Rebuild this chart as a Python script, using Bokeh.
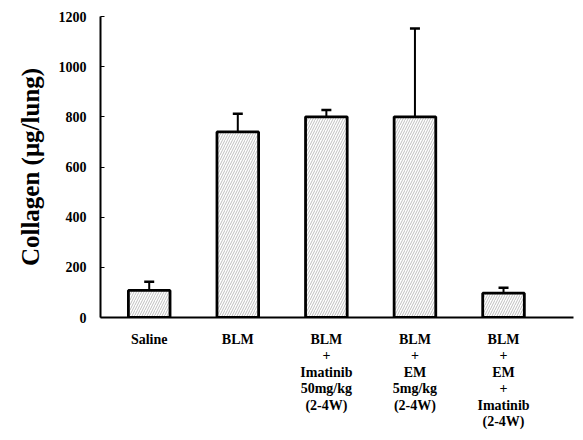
from bokeh.plotting import figure
from bokeh.models import Range1d, FixedTicker, Whisker, TeeHead, ColumnDataSource
from bokeh.embed import file_html
from bokeh.resources import INLINE

categories = ["Saline", "BLM", "BLM\n+\nImatinib\n50mg/kg\n(2-4W)",
              "BLM\n+\nEM\n5mg/kg\n(2-4W)", "BLM\n+\nEM\n+\nImatinib\n(2-4W)"]
means = [108, 740, 800, 800, 97]
errors = [35, 72, 27, 352, 22]
y_ticks = [0, 200, 400, 600, 800, 1000, 1200]

xs = list(range(1, len(categories) + 1))
src = ColumnDataSource(dict(x=xs, top=means, upper=[m + e for m, e in zip(means, errors)]))

FONT = "Liberation Serif"

p = figure(width=575, height=432, output_backend="svg", toolbar_location=None,
           x_range=Range1d(0.45, 5.79), y_range=Range1d(0, 1200),
           min_border_left=100, min_border_right=2, min_border_top=16, min_border_bottom=114)
p.outline_line_color = None
p.grid.visible = False
p.background_fill_color = "white"

p.vbar(x="x", top="top", width=0.47, source=src, fill_color="white",
       line_color="black", line_width=2.8, hatch_pattern="/", hatch_scale=5,
       hatch_color="#777777", hatch_weight=0.6, hatch_alpha=0.8)

w = Whisker(base="x", lower="top", upper="upper", source=src, line_color="black", line_width=2,
            lower_head=None, upper_head=TeeHead(size=10, line_width=2.5, line_color="black"))
p.add_layout(w)

p.yaxis.ticker = FixedTicker(ticks=y_ticks)
p.yaxis.minor_tick_line_color = None
p.yaxis.major_tick_in = 4
p.yaxis.major_tick_out = 0
p.yaxis.major_label_text_font = FONT
p.yaxis.major_label_text_font_style = "bold"
p.yaxis.major_label_text_font_size = "14px"
p.yaxis.major_label_text_color = "black"
p.yaxis.major_label_standoff = 14
p.yaxis.axis_line_width = 2
p.yaxis.axis_label = "Collagen (μg/lung)"
p.yaxis.axis_label_text_font = FONT
p.yaxis.axis_label_text_font_style = "bold"
p.yaxis.axis_label_text_font_size = "25px"
p.yaxis.axis_label_text_color = "black"
p.yaxis.axis_label_standoff = 12

p.xaxis.ticker = FixedTicker(ticks=xs)
p.xaxis.major_label_overrides = {x: c for x, c in zip(xs, categories)}
p.xaxis.major_tick_line_color = None
p.xaxis.minor_tick_line_color = None
p.xaxis.axis_line_width = 2
p.xaxis.major_label_text_font = FONT
p.xaxis.major_label_text_font_style = "bold"
p.xaxis.major_label_text_font_size = "14px"
p.xaxis.major_label_text_color = "black"
p.xaxis.major_label_standoff = 8
p.xaxis.major_label_text_line_height = 1.1

open("out.html", "w").write(file_html(p, INLINE))
